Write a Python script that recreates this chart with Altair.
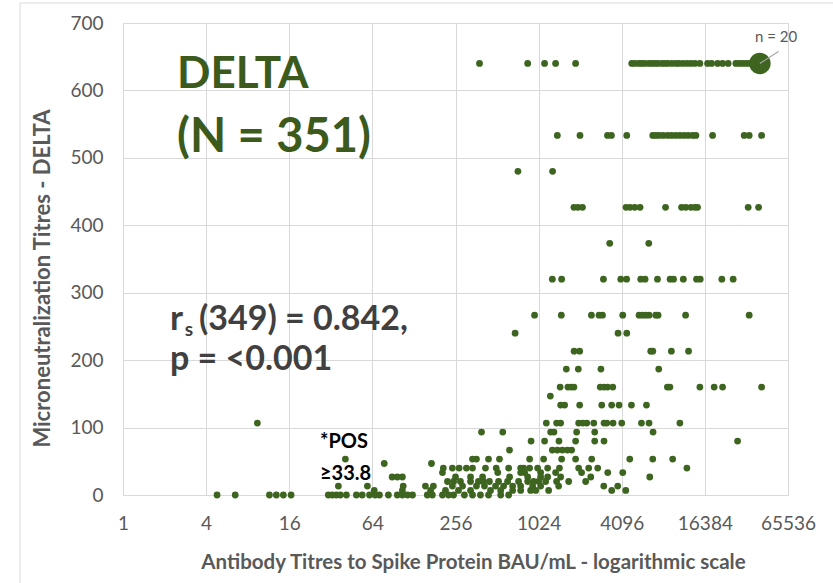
import altair as alt
import pandas as pd

# Titre levels (y) and antibody titres (x, BAU/mL), one list per titre level
bau_640 = [382, 853, 1131, 1359, 1897, 4841, 5088, 5436, 5718, 6012, 6427, 6758, 7102, 7467, 7983,
           8405, 8831, 9451, 10090, 10617, 11357, 12141, 12979, 13862, 15073, 17137, 18322, 20254,
           22014, 24170, 27480, 29040, 30722, 32470, 34305, 36300]
bau_533 = [1399, 2041, 3229, 3448, 4454, 6870, 7222, 7632, 8172, 8795, 9403, 10090, 10797, 11597,
           12402, 13352, 14106, 18634, 31560, 34305, 42190]
bau_480 = [725, 1293]
bau_427 = [1845, 1972, 2127, 4401, 4705, 5088, 5558, 8503, 11107, 11923, 12979, 13862, 14500, 33740, 40120]
bau_373 = [3352, 6427]
bau_320 = [1287, 1503, 3018, 4030, 4443, 5623, 6042, 7430, 9175, 9715, 11437, 14254, 15155, 21741, 26265]
bau_267 = [957, 1495, 2470, 2805, 2970, 4165, 5467, 5785, 6111, 6459, 7222, 7505, 11880, 34305]
bau_240 = [692, 3851, 4454]
bau_213 = [1850, 2030, 6645, 6870, 9370, 12480]
bau_187 = [1625, 1985, 2894, 7590]
bau_160 = [1466, 1669, 1761, 1845, 2861, 3048, 3229, 3528, 8766, 9145, 15073, 19131, 22014, 42190]
bau_147 = [1245]
bau_133 = [1478, 1580, 2030, 2934, 3462, 3916, 4815, 6185]
bau_107 = [9.4, 1164, 1382, 1478, 1996, 2138, 2285, 2568, 3048, 3191, 3544, 4096, 5690, 6459, 10797]
bau_93 = [395, 563, 1251, 1322, 1930, 2610, 6904]
bau_80 = [903, 1131, 1437, 1897, 2610, 3048, 28270]
bau_67 = [630, 1287, 1399, 1520, 1653, 1776]
bau_53 = [40.8, 340, 363, 444, 533, 881, 1113, 1503, 1897, 2482, 4682, 6870, 9576]
bau_47 = [78, 171.5]
bau_40 = [209, 243, 272, 307, 340, 422, 505, 621, 759, 798, 881, 1007, 1190, 1449, 1996, 2360, 2744, 12141]
bau_33 = [206, 518, 759, 811, 1059, 1359, 2097, 3244, 4165]
bau_27 = [89, 97, 105.6, 256, 329, 402, 631, 853, 1059, 1190, 1478, 2443, 6533]
bau_20 = [224, 248, 278, 329, 375, 408, 451, 525, 610, 733, 853, 942, 1024, 1151, 1382, 1690, 2244]
bau_13 = [36.3, 58.9, 107, 155, 177, 243, 288, 363, 415, 499, 571, 664, 759, 927, 1059, 1430, 3035, 3830]
bau_7 = [66, 105.6, 169, 216.6, 269, 329, 459, 544, 664, 759, 896, 975, 1210, 3465, 4378]
bau_0 = [4.8, 6.5, 11.5, 12.9, 14.5, 16.5, 30.7, 32.8, 35.1, 37.5, 41.5, 49, 54, 61, 67, 72, 83.6, 97,
         105.6, 115, 125, 160, 174, 206, 228, 248, 297, 340, 388, 444, 544, 621]

# cluster of 20 identical results at the top right
big_bau = 41010
big_titre = 640
big_n = 20

levels = [640, 533.3, 480, 426.7, 373.3, 320, 266.7, 240, 213.3, 186.7, 160, 146.7, 133.3, 106.7,
          93.3, 80, 66.7, 53.3, 46.7, 40, 33.3, 26.7, 20, 13.3, 6.7, 0]
series = [bau_640, bau_533, bau_480, bau_427, bau_373, bau_320, bau_267, bau_240, bau_213, bau_187,
          bau_160, bau_147, bau_133, bau_107, bau_93, bau_80, bau_67, bau_53, bau_47, bau_40, bau_33,
          bau_27, bau_20, bau_13, bau_7, bau_0]

x_ticks = [1, 4, 16, 64, 256, 1024, 4096, 16384, 65536]
y_ticks = [0, 100, 200, 300, 400, 500, 600, 700]

records = []
for lvl, vals in zip(levels, series):
    for v in vals:
        records.append({"bau": v, "titre": lvl, "n": 1})
records.append({"bau": big_bau, "titre": big_titre, "n": big_n})
df = pd.DataFrame(records)

GREEN = "#3d6520"
GRID = "#d9d9d9"
AX = "#595959"
FONT = "Lato"

xscale = alt.Scale(type="log", base=2, domain=[1, 65536], nice=False)
yscale = alt.Scale(domain=[0, 700], nice=False)

points = alt.Chart(df).mark_circle(opacity=1, color=GREEN).encode(
    x=alt.X("bau:Q", scale=xscale,
            axis=alt.Axis(values=x_ticks, format="d", title="Antibody Titres to Spike Protein BAU/mL - logarithmic scale",
                          grid=True, gridColor=GRID, domain=False, ticks=False, labelFlush=False,
                          labelFont=FONT, labelFontSize=19, labelColor=AX, labelPadding=19,
                          titleFont=FONT, titleFontSize=20.5, titleFontWeight="bold", titleColor=AX,
                          titleX=350, titleY=67, titleBaseline="middle")),
    y=alt.Y("titre:Q", scale=yscale,
            axis=alt.Axis(values=y_ticks, title="Microneutralization Titres - DELTA",
                          grid=True, gridColor=GRID, domain=False, ticks=False, labelFlush=False,
                          labelFont=FONT, labelFontSize=19, labelColor=AX, labelPadding=20,
                          titleFont=FONT, titleFontSize=22, titleFontWeight="bold", titleColor=AX,
                          titleX=-81, titleY=255, titleBaseline="middle")),
    size=alt.Size("n:Q", scale=alt.Scale(domain=[1, 20], range=[46, 460]), legend=None),
)

# leader line for n = 20
leader = alt.Chart(alt.Data(values=[{"bau": big_bau, "titre": big_titre, "bau2": 55900, "titre2": 657.7}])).mark_rule(
    color="#a6a6a6", strokeWidth=1.2).encode(
    x=alt.X("bau:Q", scale=xscale), x2="bau2:Q",
    y=alt.Y("titre:Q", scale=yscale), y2="titre2:Q")

def label(txt, bx, ty, size, color, weight="bold", align="left", baseline="alphabetic"):
    return alt.Chart(alt.Data(values=[{"bau": bx, "titre": ty, "t": txt}])).mark_text(
        font=FONT, fontSize=size, fontWeight=weight, color=color, align=align, baseline=baseline
    ).encode(x=alt.X("bau:Q", scale=xscale), y=alt.Y("titre:Q", scale=yscale), text="t:N")

texts = [
    label("DELTA", 2.46, 604, 44, "#3b5a1c"),
    label("(N = 351)", 2.46, 509, 47, "#3b5a1c"),
    label("r", 2.19, 244.8, 35, "#404040"),
    label("s", 2.80, 236, 19, "#404040"),
    label("(349) = 0.842,", 3.55, 244.8, 34, "#404040"),
    label("p = <0.001", 2.19, 185.5, 34, "#404040"),
    label("*POS", 26.7, 69.7, 20, "#000000"),
    label("≥33.8", 26.7, 22.3, 20, "#000000"),
    label("n = 20", 53800, 679.5, 15, AX, weight="normal", align="center", baseline="middle"),
]

border = alt.Chart(alt.Data(values=[{}])).mark_rect(fillOpacity=0, stroke=GRID, strokeWidth=1).encode(
    x=alt.value(-103), x2=alt.value(730), y=alt.value(-20), y2=alt.value(620))

chart = alt.layer(border, points, leader, *texts).properties(
    width=665, height=472,
    padding={"left": 123, "top": 23, "right": 45, "bottom": 88},
    autosize=alt.AutoSizeParams(type="none"),
).configure_view(stroke=GRID).configure(background="white")

chart.save("out.html", embed_options={"renderer": "svg", "actions": False})
